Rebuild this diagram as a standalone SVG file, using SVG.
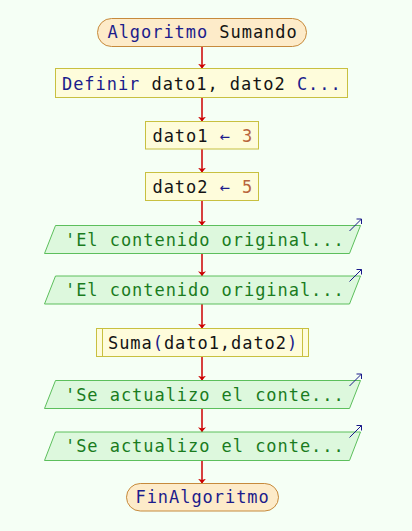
<svg xmlns="http://www.w3.org/2000/svg" width="412" height="531" viewBox="0 0 412 531">
  <defs>
    <style>
      .bg { fill: #f5fff5; }
      .term { fill: #fdebc9; stroke: #c68a3c; stroke-width: 1; }
      .proc { fill: #fefcdb; stroke: #c8c040; stroke-width: 1; }
      .io { fill: #ddf8dd; stroke: #5cbf5c; stroke-width: 1; }
      .io-mark { fill: none; stroke: #1a1a8a; stroke-width: 1; }
      .flow { fill: none; stroke: #cc0000; stroke-width: 1.5; }
      text { font-family: "DejaVu Sans Mono", "Liberation Mono", monospace; font-size: 17px; letter-spacing: 0.95px; fill: #141414; }
      .kw { fill: #1c1c8c; }
      .str { fill: #1a7c1e; }
      .num { fill: #b8643c; }
    </style>
    <marker id="arrow" markerWidth="6" markerHeight="9" viewBox="-5 -4.5 6 9" refX="0" refY="0" orient="auto" markerUnits="userSpaceOnUse">
      <path d="M-4.8,-4 L-3.4,0 L-4.8,4 L0,0 Z" fill="#cc0000"/>
    </marker>
    <!-- output symbol drawn at the top-right corner of each output block -->
    <g id="out-mark" class="io-mark">
      <path d="M-11,5.5 L1,-6.5"/>
      <path d="M-4,-6.5 L1,-6.5 L1,-1.5"/>
    </g>
  </defs>

  <rect class="bg" x="0" y="0" width="412" height="531"/>

  <!-- connectors -->
  <g id="connectors">
    <path class="flow" d="M202,46.5 V68.5" marker-end="url(#arrow)"/>
    <path class="flow" d="M202,97.5 V121.5" marker-end="url(#arrow)"/>
    <path class="flow" d="M202,149 V172.5" marker-end="url(#arrow)"/>
    <path class="flow" d="M202,200.5 V225.5" marker-end="url(#arrow)"/>
    <path class="flow" d="M202,253.5 V276" marker-end="url(#arrow)"/>
    <path class="flow" d="M202,304 V328.5" marker-end="url(#arrow)"/>
    <path class="flow" d="M202,356.5 V380.5" marker-end="url(#arrow)"/>
    <path class="flow" d="M202,408.5 V432" marker-end="url(#arrow)"/>
    <path class="flow" d="M202,460.5 V483.5" marker-end="url(#arrow)"/>
  </g>

  <g id="start">
    <rect class="term" x="97.5" y="18.5" width="209" height="28" rx="14" ry="14"/>
    <text x="107.5" y="37.5"><tspan class="kw">Algoritmo</tspan> Sumando</text>
  </g>

  <g id="definir">
    <rect class="proc" x="55.5" y="68.5" width="292" height="29"/>
    <text x="62" y="89.5"><tspan class="kw">Definir</tspan> dato1, dato2 <tspan class="kw">C...</tspan></text>
  </g>

  <g id="asignar1">
    <rect class="proc" x="145.5" y="121.5" width="113" height="27.5"/>
    <text x="152.5" y="141.5">dato1 <tspan class="kw">←</tspan> <tspan class="num">3</tspan></text>
  </g>

  <g id="asignar2">
    <rect class="proc" x="145.5" y="172.5" width="113" height="28"/>
    <text x="152.5" y="192.5">dato2 <tspan class="kw">←</tspan> <tspan class="num">5</tspan></text>
  </g>

  <g id="escribir1">
    <polygon class="io" points="55.5,225.5 360.5,225.5 349.5,253.5 44.5,253.5"/>
    <use href="#out-mark" x="360.5" y="225.5"/>
    <text class="str" x="65" y="245.5">'El contenido original...</text>
  </g>

  <g id="escribir2">
    <polygon class="io" points="55.5,276 360.5,276 349.5,304 44.5,304"/>
    <use href="#out-mark" x="360.5" y="276"/>
    <text class="str" x="65" y="296">'El contenido original...</text>
  </g>

  <g id="llamada">
    <rect class="proc" x="96.5" y="328.5" width="212" height="28"/>
    <path class="proc" d="M102.5,328.5 V356.5 M302.5,328.5 V356.5" fill="none"/>
    <text x="108" y="348.5">Suma<tspan class="kw">(</tspan>dato1,dato2<tspan class="kw">)</tspan></text>
  </g>

  <g id="escribir3">
    <polygon class="io" points="55.5,380.5 360.5,380.5 349.5,408.5 44.5,408.5"/>
    <use href="#out-mark" x="360.5" y="380.5"/>
    <text class="str" x="65" y="400.5">'Se actualizo el conte...</text>
  </g>

  <g id="escribir4">
    <polygon class="io" points="55.5,432 360.5,432 349.5,460.5 44.5,460.5"/>
    <use href="#out-mark" x="360.5" y="432"/>
    <text class="str" x="65" y="452">'Se actualizo el conte...</text>
  </g>

  <g id="fin">
    <rect class="term" x="126.5" y="483.5" width="152" height="27.5" rx="13.75" ry="13.75"/>
    <text class="kw" x="135.5" y="502.5">FinAlgoritmo</text>
  </g>
</svg>
